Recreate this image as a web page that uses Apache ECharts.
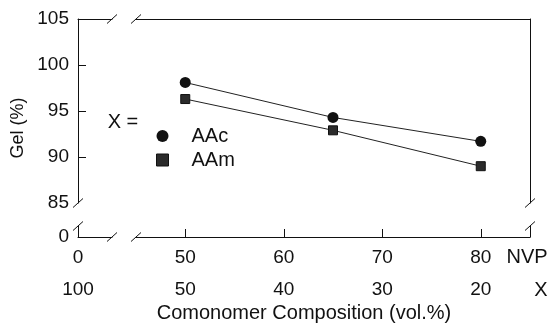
<!DOCTYPE html>
<html>
<head>
<meta charset="utf-8">
<script src="https://cdn.jsdelivr.net/npm/echarts@6/dist/echarts.min.js"></script>
<style>html,body{margin:0;padding:0;background:#fff}#c{width:549px;height:325px}</style>
</head>
<body>
<div id="c"></div>
<script>
// ---- data ----
const seriesNames = ['AAc', 'AAm'];
const nvp = [50, 65, 80];
const aac = [98.1, 94.3, 91.7];
const aam = [96.3, 92.9, 89.0];
const nvpTicks = [50, 60, 70, 80];
const xCompLabels = ['50', '40', '30', '20'];
const yTicks = [85, 90, 95, 100, 105];
const yInnerTicks = [90, 95, 100];

// ---- layout ----
const L = 78, R = 530, T = 19, B = 237;
const xb1 = 112, xb2 = 136, yb1 = 203, yb2 = 226;
const W = 549;
const FONT = "'Liberation Sans', Arial, sans-serif";
const TICK_FS = 19;
const black = '#111';

const chart = echarts.init(document.getElementById('c'));

function slash(cx, cy) {
  return { type: 'line', shape: { x1: cx - 5, y1: cy + 4.5, x2: cx + 5, y2: cy - 4.5 },
           style: { stroke: black, lineWidth: 1 }, z: 100 };
}
function txt(x, y, s, size, align, rot) {
  return { type: 'text', x: x, y: y, rotation: rot || 0, z: 100,
    style: { text: s, fill: black, font: size + 'px ' + FONT, align: align || 'center', verticalAlign: 'middle' } };
}

const lineStyleAxis = { show: true, lineStyle: { color: black, width: 1 } };
const noLabel = { show: false };
const noTick = { show: false };

const option = {
  animation: false,
  backgroundColor: '#fff',
  grid: [
    { left: L, width: xb1 - L, top: T, height: yb1 - T, outerBoundsMode: 'none' },
    { left: xb2, right: W - R, top: T, height: yb1 - T, outerBoundsMode: 'none' },
    { left: L, width: xb1 - L, top: yb2, height: B - yb2, outerBoundsMode: 'none' },
    { left: xb2, right: W - R, top: yb2, height: B - yb2, outerBoundsMode: 'none' }
  ],
  xAxis: [
    { type: 'value', gridIndex: 0, position: 'top', min: 0, max: 3.5, axisLine: lineStyleAxis, axisTick: noTick, axisLabel: noLabel, splitLine: { show: false } },
    { type: 'value', gridIndex: 1, position: 'top', min: 45, max: 85, axisLine: lineStyleAxis, axisTick: noTick, axisLabel: noLabel, splitLine: { show: false } },
    { type: 'value', gridIndex: 2, position: 'bottom', min: 0, max: 3.5, axisLine: lineStyleAxis, axisTick: noTick,
      axisLabel: { customValues: [0], margin: 11, color: black, fontSize: TICK_FS, fontFamily: FONT }, splitLine: { show: false } },
    { type: 'value', gridIndex: 3, position: 'bottom', min: 45, max: 85, axisLine: lineStyleAxis,
      axisTick: { show: true, inside: true, length: 8, customValues: nvpTicks, lineStyle: { color: black } },
      axisLabel: { customValues: nvpTicks, margin: 11, color: black, fontSize: TICK_FS, fontFamily: FONT }, splitLine: { show: false } },
    { type: 'value', gridIndex: 2, position: 'bottom', offset: 32, min: 0, max: 3.5, axisLine: { show: false }, axisTick: noTick,
      axisLabel: { customValues: [0], margin: 11, color: black, fontSize: TICK_FS, fontFamily: FONT, formatter: function (v) { return String(100 - v); } }, splitLine: { show: false } },
    { type: 'value', gridIndex: 3, position: 'bottom', offset: 32, min: 45, max: 85, axisLine: { show: false }, axisTick: noTick,
      axisLabel: { customValues: nvpTicks, margin: 11, color: black, fontSize: TICK_FS, fontFamily: FONT,
        formatter: function (v) { return xCompLabels[nvpTicks.indexOf(v)]; } }, splitLine: { show: false } }
  ],
  yAxis: [
    { type: 'value', gridIndex: 0, position: 'left', min: 85, max: 105, interval: 5, axisLine: lineStyleAxis,
      axisTick: { show: true, inside: true, length: 8, customValues: yInnerTicks, lineStyle: { color: black } },
      axisLabel: { customValues: yTicks, margin: 9, color: black, fontSize: TICK_FS, fontFamily: FONT }, splitLine: { show: false } },
    { type: 'value', gridIndex: 1, position: 'right', min: 85, max: 105, axisLine: lineStyleAxis, axisTick: noTick, axisLabel: noLabel, splitLine: { show: false } },
    { type: 'value', gridIndex: 2, position: 'left', min: 0, max: 1.2, axisLine: lineStyleAxis, axisTick: noTick,
      axisLabel: { customValues: [0], margin: 9, color: black, fontSize: TICK_FS, fontFamily: FONT }, splitLine: { show: false } },
    { type: 'value', gridIndex: 3, position: 'right', min: 0, max: 1.2, axisLine: lineStyleAxis, axisTick: noTick, axisLabel: noLabel, splitLine: { show: false } }
  ],
  legend: {
    orient: 'vertical', left: 151, top: 121, itemWidth: 12, itemHeight: 12, itemGap: 4,
    textStyle: { fontSize: 20, fontFamily: FONT, color: black, padding: [0, 0, 0, 18], lineHeight: 19 },
    data: [
      { name: seriesNames[0], icon: 'circle', itemStyle: { color: black } },
      { name: seriesNames[1], icon: 'rect', itemStyle: { color: '#2b2b2b', borderColor: black, borderWidth: 1 } }
    ]
  },
  series: [
    { name: seriesNames[0], type: 'line', xAxisIndex: 1, yAxisIndex: 1, data: nvp.map((x, i) => [x, aac[i]]),
      symbol: 'circle', symbolSize: 11, itemStyle: { color: black }, lineStyle: { color: '#222', width: 1 } },
    { name: seriesNames[1], type: 'line', xAxisIndex: 1, yAxisIndex: 1, data: nvp.map((x, i) => [x, aam[i]]),
      symbol: 'rect', symbolSize: 9, itemStyle: { color: '#2b2b2b', borderColor: black, borderWidth: 1 }, lineStyle: { color: '#222', width: 1 } }
  ],
  graphic: [
    slash(L, yb1), slash(L, yb2), slash(R, yb1), slash(R, yb2),
    slash(xb1, B), slash(xb2, B), slash(xb1, T), slash(xb2, T),
    txt(123, 122, 'X =', 20, 'center'),
    txt(527, 257, 'NVP', 20, 'center'),
    txt(541, 290, 'X', 20, 'center'),
    txt((L + R) / 2, 313, 'Comonomer Composition (vol.%)', 20, 'center'),
    txt(18, 128, 'Gel (%)', 18, 'center', Math.PI / 2)
  ]
};
chart.setOption(option);
</script>
</body>
</html>
